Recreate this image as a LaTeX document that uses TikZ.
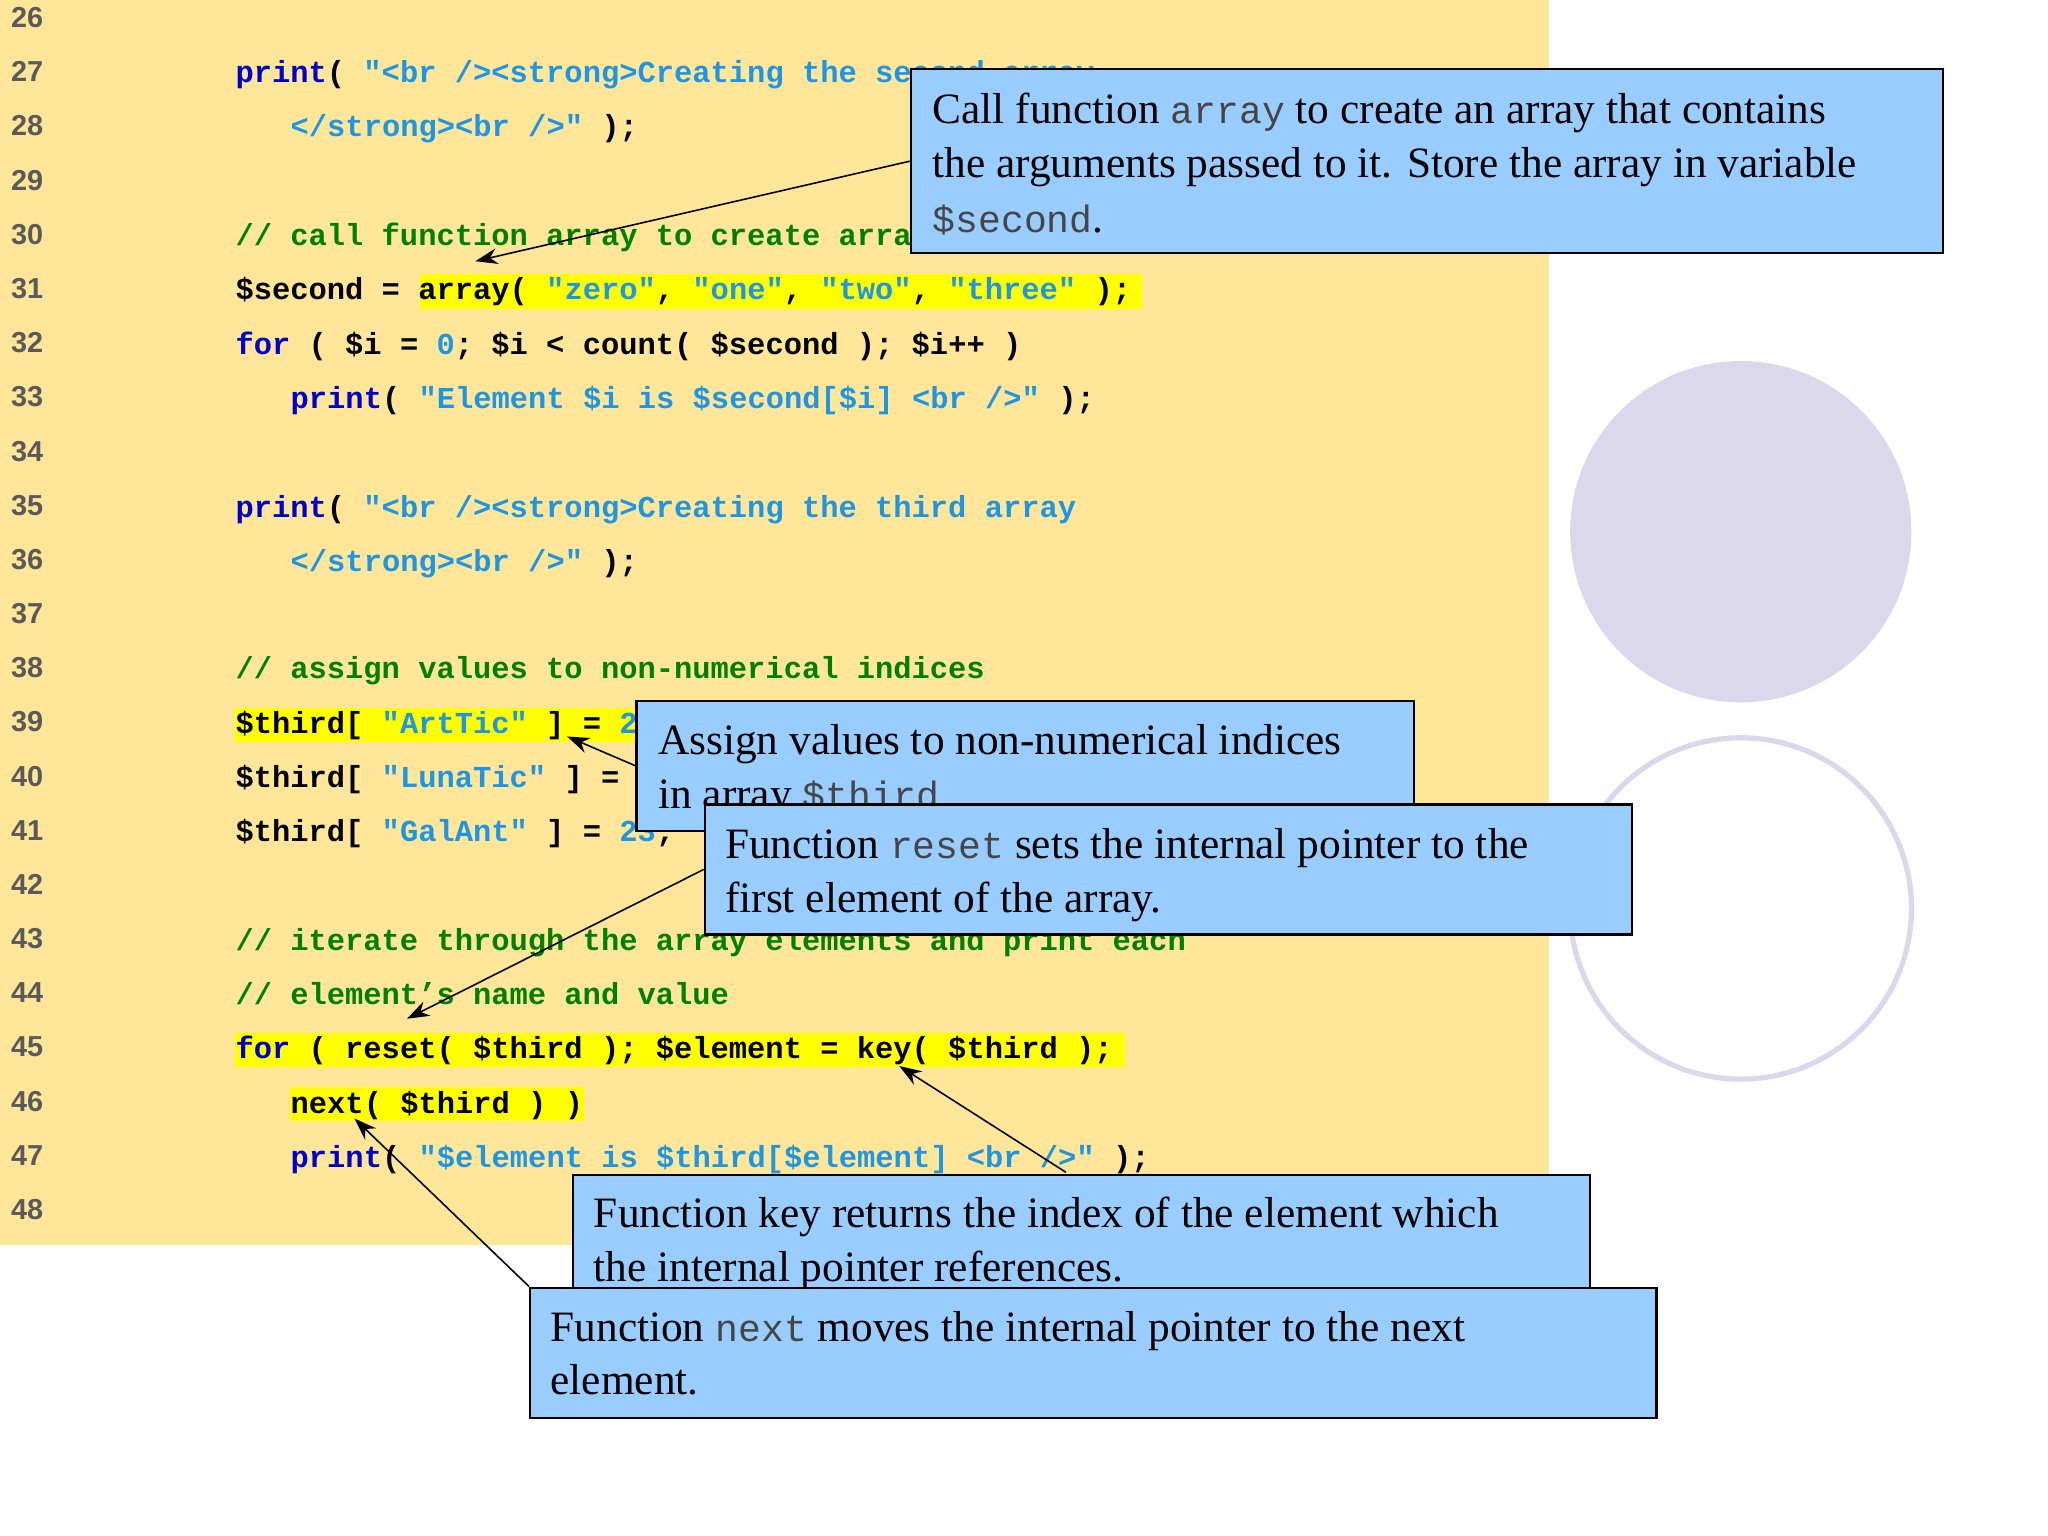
\documentclass[tikz,border=0pt]{standalone}
\usepackage{fontspec}
\setmainfont{Liberation Serif}
\newfontfamily\codefont{Liberation Mono}
\newfontfamily\numfont{Liberation Sans}
\usetikzlibrary{arrows.meta}
\definecolor{bgy}{RGB}{255,230,153}
\definecolor{hly}{RGB}{255,255,0}
\definecolor{kwc}{RGB}{0,0,204}
\definecolor{stc}{RGB}{30,150,230}
\definecolor{cmc}{RGB}{0,128,0}
\definecolor{boxc}{RGB}{153,204,255}
\definecolor{circc}{RGB}{220,216,236}
\definecolor{numc}{RGB}{90,90,90}
\newcommand{\kw}[1]{\textcolor{kwc}{#1}}
\newcommand{\st}[1]{\textcolor{stc}{#1}}
\newcommand{\cm}[1]{\textcolor{cmc}{#1}}
\newcommand{\cmono}[1]{{\codefont\fontsize{14.5}{20}\selectfont\color[RGB]{70,70,70}#1}}
\begin{document}
\begin{tikzpicture}[x=0.5pt,y=-0.5pt,
  code/.style={anchor=base west,inner sep=0pt,font=\codefont\bfseries\fontsize{11.6}{12}\selectfont},
  lnum/.style={anchor=base west,inner sep=0pt,text=numc,font=\numfont\bfseries\fontsize{11}{12}\selectfont},
  callout/.style={draw=black,line width=0.8pt,fill=boxc},
  ctext/.style={anchor=base west,inner sep=0pt,font=\fontsize{16.5}{20}\selectfont},
  hl/.style={fill=hly,draw=none},
  arr/.style={-{Stealth[length=8.5pt,width=6pt]},line width=0.6pt}]
\useasboundingbox (0,0) rectangle (1560,1170);
\fill[white] (0,0) rectangle (1560,1170);
\fill[bgy] (0,0) rectangle (1180,948);
\fill[circc] (1326,405) circle[radius=130];
\draw[circc,line width=2pt] (1326,692) circle[radius=130];
% highlights
\fill[hly] (320,209) rectangle (870,235);
\fill[hly] (179,539) rectangle (490,565);
\fill[hly] (179,787) rectangle (857,813);
\fill[hly] (221,828) rectangle (445,854);
% line numbers
\foreach \n [evaluate=\n as \yy using 21+(\n-26)*41.27] in {26,...,48}
  \node[lnum] (n\n) at (8,\yy) {\n};
% code
\node[code] (l27) at (179,63) {\kw{print}( \st{"<br /><strong>Creating the second array}};
\node[code] (l28) at (221,104) {\st{</strong><br />"} );};
\node[code] (l30) at (179,187) {\cm{// call function array to create array}};
\node[code] (l31) at (179,228) {\$second = array( \st{"zero"}, \st{"one"}, \st{"two"}, \st{"three"} );};
\node[code] (l32) at (179,270) {\kw{for} ( \$i = \st{0}; \$i < count( \$second ); \$i++ )};
\node[code] (l33) at (221,311) {\kw{print}( \st{"Element \$i is \$second[\$i] <br />"} );};
\node[code] (l35) at (179,394) {\kw{print}( \st{"<br /><strong>Creating the third array}};
\node[code] (l36) at (221,435) {\st{</strong><br />"} );};
\node[code] (l38) at (179,517) {\cm{// assign values to non-numerical indices}};
\node[code] (l39) at (179,559) {\$third[ \st{"ArtTic"} ] = \st{21};};
\node[code] (l40) at (179,600) {\$third[ \st{"LunaTic"} ] = \st{41};};
\node[code] (l41) at (179,641) {\$third[ \st{"GalAnt"} ] = \st{23};};
\node[code] (l43) at (179,724) {\cm{// iterate through the array elements and print each}};
\node[code] (l44) at (179,765) {\cm{// element’s name and value}};
\node[code] (l45) at (179,806) {\kw{for} ( reset( \$third ); \$element = key( \$third );};
\node[code] (l46) at (221,848) {next( \$third ) )};
\node[code] (l47) at (221,889) {\kw{print}( \st{"\$element is \$third[\$element] <br />"} );};
% callout 1
\node[callout,minimum width=393pt,minimum height=70pt,anchor=north west,inner sep=0pt] (c1) at (693,52) {};
\node[ctext] (t1a) at (710,94) {Call function \cmono{array} to create an array that contains};
\node[ctext] (t1b) at (710,135) {the arguments passed to it. Store the array in variable};
\node[ctext] (t1c) at (710,177) {\cmono{\$second}.};
% callout 2
\node[callout,minimum width=296pt,minimum height=49.5pt,anchor=north west,inner sep=0pt] (c2) at (484,533) {};
\node[ctext] (t2a) at (501,575) {Assign values to non-numerical indices};
\node[ctext] (t2b) at (501,616) {in array \cmono{\$third}.};
% callout 3
\node[callout,minimum width=353pt,minimum height=49.5pt,anchor=north west,inner sep=0pt] (c3) at (536,612) {};
\node[ctext] (t3a) at (552,654) {Function \cmono{reset} sets the internal pointer to the};
\node[ctext] (t3b) at (552,695) {first element of the array.};
% callout 4
\node[callout,minimum width=387pt,minimum height=48pt,anchor=north west,inner sep=0pt] (c4) at (436,894) {};
\node[ctext] (t4a) at (452,935) {Function key returns the index of the element which};
\node[ctext] (t4b) at (452,976) {the internal pointer references.};
% callout 5
\node[callout,minimum width=429pt,minimum height=49.5pt,anchor=north west,inner sep=0pt] (c5) at (403,980) {};
\node[ctext] (t5a) at (419,1022) {Function \cmono{next} moves the internal pointer to the next};
\node[ctext] (t5b) at (419,1062) {element.};
% arrow targets
\coordinate (e1) at (362,199);
\coordinate (e2) at (432,561);
\coordinate (e3) at (310,776);
\coordinate (s4) at (812,893);
\coordinate (e4) at (685,812);
\coordinate (e5) at (270,852);
\draw[arr] (c1.west) -- (e1);
\draw[arr] (c2.west) -- (e2);
\draw[arr] (c3.west) -- (e3);
\draw[arr] (s4) -- (e4);
\draw[arr] (c5.north west) -- (e5);
\end{tikzpicture}
\end{document}
